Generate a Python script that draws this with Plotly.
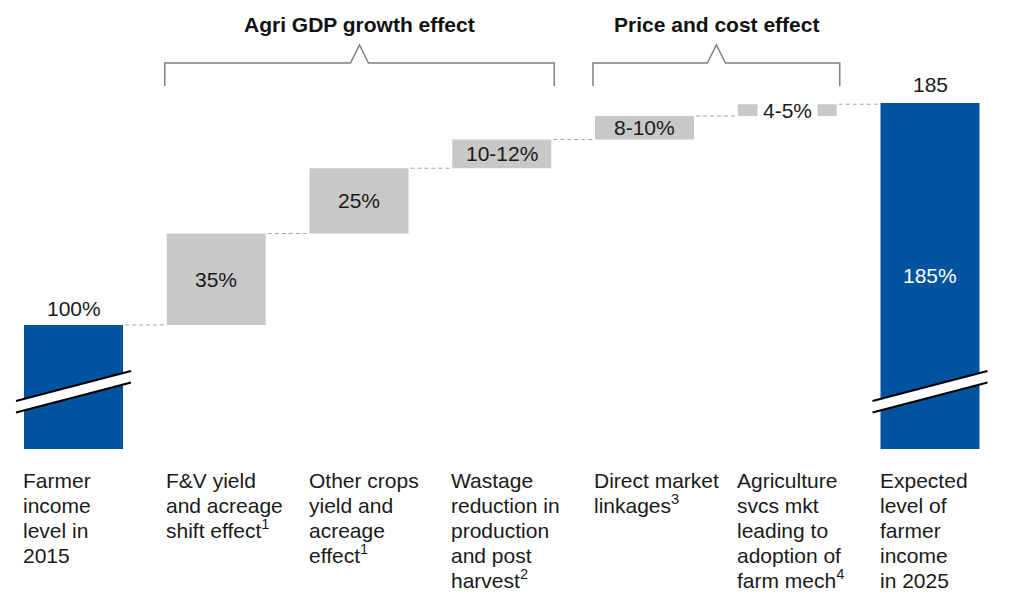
import plotly.graph_objects as go

# ---- data -------------------------------------------------------------
start_value = 100          # farmer income level in 2015 (indexed)
end_value = 185            # expected level in 2025
increments = [35, 25, 11, 9, 4.5]
increment_labels = ["35%", "25%", "10-12%", "8-10%", "4-5%"]
start_label = "100%"
end_label_inside = "185%"
end_label_top = "185"

category_lines = [
    ["Farmer", "income", "level in", "2015"],
    ["F&V yield", "and acreage", "shift effect<sup>1</sup>"],
    ["Other crops", "yield and", "acreage", "effect<sup>1</sup>"],
    ["Wastage", "reduction in", "production", "and post", "harvest<sup>2</sup>"],
    ["Direct market", "linkages<sup>3</sup>"],
    ["Agriculture", "svcs mkt", "leading to", "adoption of", "farm mech<sup>4</sup>"],
    ["Expected", "level of", "farmer", "income", "in 2025"],
]

groups = [("Agri GDP growth effect", 1, 3), ("Price and cost effect", 4, 5)]

# ---- styling / geometry ----------------------------------------------
W, H = 1030, 594
PX_PER_X = 142.75          # horizontal pixels per category step
X0_PX = 73.5               # pixel centre of the first category
BAR_W = 0.6935
AXIS_FLOOR = 52.5          # where the (broken) axis is cut off
Y_RANGE = [-3.0, 224.4]
PX_PER_Y = H / (Y_RANGE[1] - Y_RANGE[0])

BLUE = "#00539F"
GREY = "#C8C8C8"
TEXT = "#1A1A1A"
FONT = "Liberation Sans, Arial, Helvetica, sans-serif"
FS = 21


def paper_y(px):
    return 1 - px / H


n = len(category_lines)
xs = list(range(n))

# cumulative levels of the waterfall
levels = [start_value]
for inc in increments:
    levels.append(levels[-1] + inc)

fig = go.Figure()

# start and end totals (blue), cut at the axis floor
fig.add_trace(go.Bar(
    x=[0, n - 1], y=[start_value - AXIS_FLOOR, end_value - AXIS_FLOOR],
    base=[AXIS_FLOOR, AXIS_FLOOR], width=BAR_W,
    marker=dict(color=BLUE, line=dict(width=0)), hoverinfo="skip",
))

# floating increments (grey)
fig.add_trace(go.Bar(
    x=xs[1:n - 1], y=increments, base=levels[:-1], width=BAR_W,
    marker=dict(color=GREY, line=dict(width=0)), hoverinfo="skip",
))

# dashed connectors between neighbouring bars
cx, cy = [], []
for i in range(n - 1):
    lvl = levels[i]
    cx += [i + BAR_W / 2 + 2 / PX_PER_X, i + 1 - BAR_W / 2 - 2 / PX_PER_X, None]
    cy += [lvl, lvl, None]
fig.add_trace(go.Scatter(
    x=cx, y=cy, mode="lines", hoverinfo="skip",
    line=dict(color="#A6A6A6", width=1, dash="4px,3px"),
))

annotations = []

# value labels
annotations.append(dict(x=0, y=start_value, text=start_label, showarrow=False,
                        xref="x", yref="y", yanchor="bottom", yshift=3,
                        font=dict(size=FS, color=TEXT, family=FONT)))
annotations.append(dict(x=n - 1, y=end_value, text=end_label_top, showarrow=False,
                        xref="x", yref="y", yanchor="bottom", yshift=5,
                        font=dict(size=FS, color=TEXT, family=FONT)))
annotations.append(dict(x=n - 1, y=(AXIS_FLOOR + end_value) / 2, text=end_label_inside,
                        showarrow=False, xref="x", yref="y", yanchor="middle",
                        font=dict(size=FS, color="white", family=FONT)))
for k, (inc, lab) in enumerate(zip(increments, increment_labels)):
    i = k + 1
    mid = levels[k] + inc / 2
    small = inc * PX_PER_Y < 20
    annotations.append(dict(
        x=i, y=mid, text=lab, showarrow=False, xref="x", yref="y",
        yanchor="middle", font=dict(size=FS, color=TEXT, family=FONT),
        bgcolor="white" if small else None, borderpad=5 if small else 1,
    ))

# category labels below the bars, one line each
FIRST_BASE_PX = 494
LINE_PX = 25
for i, lines in enumerate(category_lines):
    for j, line in enumerate(lines):
        annotations.append(dict(
            x=i - BAR_W / 2, y=paper_y(FIRST_BASE_PX + j * LINE_PX), text=line,
            showarrow=False, xref="x", yref="paper", xanchor="left", yanchor="bottom",
            xshift=-3, align="left", font=dict(size=FS, color=TEXT, family=FONT),
        ))

shapes = []

# group brackets with titles
for title, a, b in groups:
    left = a - BAR_W / 2 - 2 / PX_PER_X
    right = b + BAR_W / 2 + 3 / PX_PER_X
    apex = (left + right) / 2
    notch = 9 / PX_PER_X
    y_low, y_bar, y_apex = paper_y(86), paper_y(63), paper_y(45)
    path = (f"M {left},{y_low} L {left},{y_bar} L {apex - notch},{y_bar} "
            f"L {apex},{y_apex} L {apex + notch},{y_bar} L {right},{y_bar} L {right},{y_low}")
    shapes.append(dict(type="path", path=path, xref="x", yref="paper",
                       line=dict(color="#808080", width=1.5)))
    annotations.append(dict(x=apex, y=paper_y(25), text=f"<b>{title}</b>", showarrow=False,
                            xref="x", yref="paper", yanchor="middle",
                            font=dict(size=FS, color="#111111", family=FONT)))

# axis-break marks across the two total bars
BREAK_Y = 74.4
HALF_GAP = 2.2
HALF_RISE = 15 / PX_PER_Y
HALF_SPAN = BAR_W / 2 + 8 / PX_PER_X
for i in (0, n - 1):
    x1, x2 = i - HALF_SPAN, i + HALF_SPAN
    up1, up2 = BREAK_Y + HALF_GAP - HALF_RISE, BREAK_Y + HALF_GAP + HALF_RISE
    lo1, lo2 = BREAK_Y - HALF_GAP - HALF_RISE, BREAK_Y - HALF_GAP + HALF_RISE
    shapes.append(dict(type="path", xref="x", yref="y",
                       path=f"M {x1},{up1} L {x2},{up2} L {x2},{lo2} L {x1},{lo1} Z",
                       fillcolor="white", line=dict(width=0)))
    for ya, yb in ((up1, up2), (lo1, lo2)):
        shapes.append(dict(type="line", xref="x", yref="y", x0=x1, y0=ya, x1=x2, y1=yb,
                           line=dict(color="black", width=2)))

fig.update_layout(
    width=W, height=H,
    margin=dict(l=0, r=0, t=0, b=0),
    paper_bgcolor="white", plot_bgcolor="white",
    showlegend=False, barmode="overlay",
    xaxis=dict(range=[-X0_PX / PX_PER_X, (W - X0_PX) / PX_PER_X], visible=False,
               fixedrange=True),
    yaxis=dict(range=Y_RANGE, visible=False, fixedrange=True),
    annotations=annotations, shapes=shapes,
)

fig.write_html("out.html", config={"displayModeBar": False})
